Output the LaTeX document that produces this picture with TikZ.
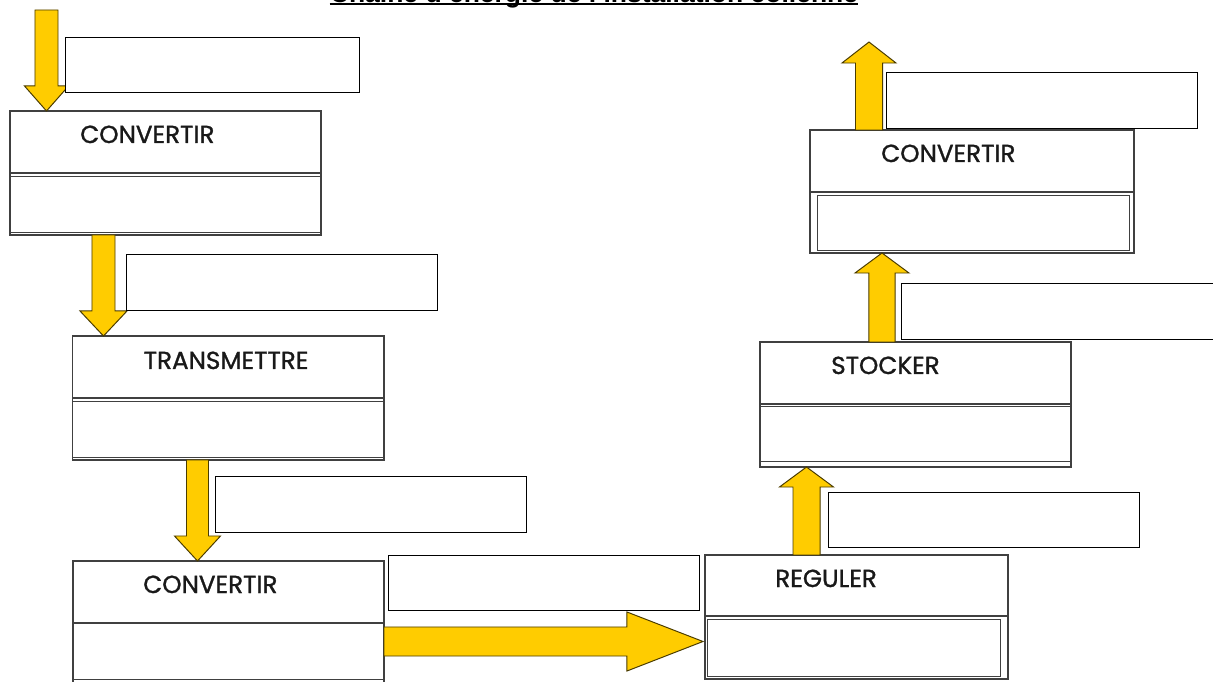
\documentclass[tikz,border=0pt]{standalone}
\usepackage{fontspec}
\setmainfont{Liberation Sans}
\newfontfamily\comic[FakeBold=1.2]{Poppins}
\usetikzlibrary{calc,fit}

\definecolor{jaune}{HTML}{FFCC00}
\definecolor{contour}{HTML}{4A3C00}
\definecolor{trait}{HTML}{404040}

\tikzset{
  cadre/.style={draw=trait, line width=1pt, inner sep=0pt, outer sep=0pt},
  reponse/.style={draw=trait, line width=0.7pt, inner sep=0pt, outer sep=0pt},
  case/.style={draw=black, line width=0.6pt, fill=white, inner sep=0pt, outer sep=0pt},
  fonction/.style={font=\comic\fontsize{17.5}{17.5}\selectfont, text=black!90, anchor=base west, inner sep=0pt},
  fleche/.style={draw=contour, fill=jaune, line width=0.7pt, line join=miter},
}

% grosse fleche jaune : depart, pointe, demi-corps, demi-tete, longueur tete
\newcommand{\flechejaune}[5]{%
  \coordinate (fb) at ($(#2)!#5!(#1)$);
  \draw[fleche] ($(#1)!#3!90:(#2)$) -- ($(fb)!#3!90:(#2)$) -- ($(fb)!#4!90:(#2)$) -- (#2)
    -- ($(fb)!#4!-90:(#2)$) -- ($(fb)!#3!-90:(#2)$) -- ($(#1)!#3!-90:(#2)$) -- cycle;}

\begin{document}
\begin{tikzpicture}[x=0.025cm,y=-0.025cm]
  \path[use as bounding box, fill=white] (0,0) rectangle (1213,682);

  % titre (coupe en haut)
  \node[anchor=base, inner sep=0pt] (titre) at (594,2.7)
    {\resizebox{13.2cm}{!}{\textbf{Chaîne d'énergie de l'installation éolienne}}};
  \draw[line width=0.05cm] ([yshift=-0.04cm]titre.base west) -- ([yshift=-0.04cm]titre.base east);

  % CONVERTIR
  \node[cadre, fit={(10,111) (321,235)}] (conv1) {};
  \node[cadre, fit={(10,111) (321,173)}] (conv1-haut) {};
  \node[reponse, fit={(10,176) (321,232)}] (conv1-rep) {};
  \node[fonction] (conv1-txt) at ($(conv1.north west)+(70,32)$) {CONVERTIR};

  % TRANSMETTRE
  \node[cadre, fit={(72.5,336) (384,460)}] (trans) {};
  \node[cadre, fit={(72.5,336) (384,398)}] (trans-haut) {};
  \node[reponse, fit={(72.5,401) (384,457)}] (trans-rep) {};
  \node[fonction] (trans-txt) at ($(trans.north west)+(71,33)$) {TRANSMETTRE};

  % CONVERTIR
  \node[cadre, fit={(73,561) (384,695)}] (conv2) {};
  \node[cadre, fit={(73,561) (384,623)}] (conv2-haut) {};
  \node[reponse, fit={(73,623) (384,679)}] (conv2-rep) {};
  \node[fonction] (conv2-txt) at ($(conv2.north west)+(70,32)$) {CONVERTIR};

  % REGULER
  \node[cadre, fit={(705,555) (1008,679)}] (regul) {};
  \node[cadre, fit={(705,555) (1008,616)}] (regul-haut) {};
  \node[reponse, fit={(707,619) (1000,676)}] (regul-rep) {};
  \node[fonction] (regul-txt) at ($(regul.north west)+(70,32)$) {REGULER};

  % STOCKER
  \node[cadre, fit={(760,342) (1071,467)}] (stock) {};
  \node[cadre, fit={(760,342) (1071,404)}] (stock-haut) {};
  \node[reponse, fit={(760,406) (1071,461)}] (stock-rep) {};
  \node[fonction] (stock-txt) at ($(stock.north west)+(71,32)$) {STOCKER};

  % CONVERTIR
  \node[cadre, fit={(810,130) (1134,253)}] (conv3) {};
  \node[cadre, fit={(810,130) (1134,192)}] (conv3-haut) {};
  \node[reponse, fit={(817,195) (1129,250)}] (conv3-rep) {};
  \node[fonction] (conv3-txt) at ($(conv3.north west)+(71,32)$) {CONVERTIR};

  % fleches
  \coordinate (depart) at (46.5,10);
  \coordinate (a1) at (depart |- conv1.north);
  \coordinate (a2) at ($(conv1.south west)+(93.5,0)$);
  \coordinate (b2) at (a2 |- trans.north);
  \coordinate (a3) at ($(trans.south west)+(125,0)$);
  \coordinate (b3) at (a3 |- conv2.north);
  \coordinate (a4) at ($(conv2.north east)+(0,80.5)$);
  \coordinate (b4) at ($(regul.west |- a4)+(-2,0)$);
  \coordinate (a5) at ($(regul.north west)+(101.5,0)$);
  \coordinate (b5) at (a5 |- stock.south);
  \coordinate (a6) at ($(stock.north west)+(122,0)$);
  \coordinate (b6) at (a6 |- conv3.south);
  \coordinate (a7) at ($(conv3.north west)+(59,0)$);
  \coordinate (arrivee) at ($(a7)+(0,-88)$);

  \flechejaune{depart}{a1}{0.2875cm}{0.55cm}{0.625cm}
  \flechejaune{a2}{b2}{0.2875cm}{0.5875cm}{0.625cm}
  \flechejaune{a3}{b3}{0.275cm}{0.575cm}{0.625cm}
  \flechejaune{a4}{b4}{0.3625cm}{0.7375cm}{1.9cm}
  \flechejaune{a5}{b5}{0.3375cm}{0.675cm}{0.5cm}
  \flechejaune{a6}{b6}{0.33cm}{0.675cm}{0.5cm}
  \flechejaune{a7}{arrivee}{0.3375cm}{0.675cm}{0.525cm}

  % cases a remplir
  \node[case, fit={(65,37) (359,92)}] (case1) {};
  \node[case, fit={(126,254) (437,310)}] (case2) {};
  \node[case, fit={(215,476) (526,532)}] (case3) {};
  \node[case, fit={(388,555) (699,610)}] (case4) {};
  \node[case, fit={(828,492) (1139,547)}] (case5) {};
  \node[case, fit={(901,283) (1220,339)}] (case6) {};
  \node[case, fit={(886,72) (1197,128)}] (case7) {};
\end{tikzpicture}
\end{document}
